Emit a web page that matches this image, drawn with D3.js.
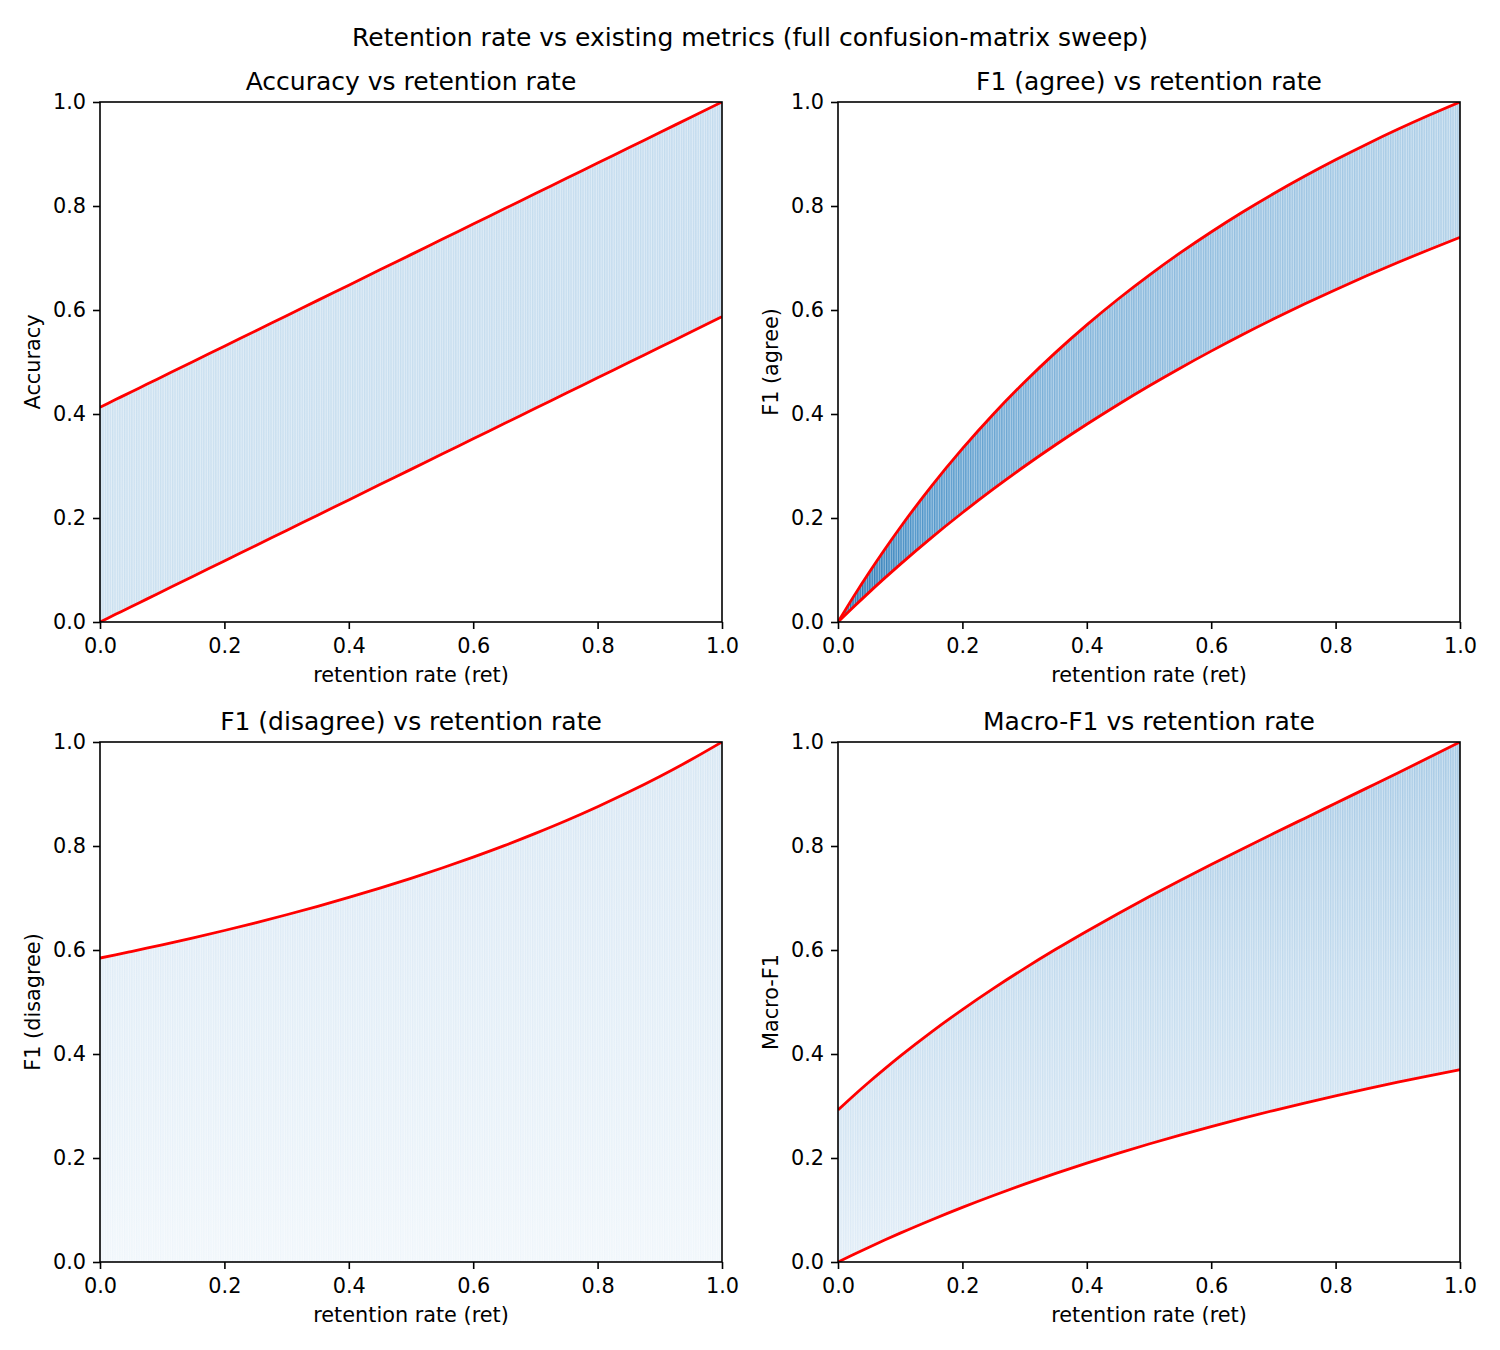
<!DOCTYPE html>
<html>
<head>
<meta charset="utf-8">
<script src="https://cdn.jsdelivr.net/npm/d3@7"></script>
<style>
  body { margin: 0; background: #fff; }
  svg { display: block; font-family: "DejaVu Sans", sans-serif; }
</style>
</head>
<body>
<div id="chart"></div>
<script>
// retention-rate samples along x (shared by all panels)
const RET = [0, 0.025, 0.05, 0.075, 0.1, 0.15, 0.2, 0.25, 0.3, 0.35, 0.4, 0.45, 0.5,
             0.55, 0.6, 0.65, 0.7, 0.75, 0.8, 0.85, 0.9, 0.95, 1.0];

// bounds (red curves)
const ACC_UPPER = [0.413, 0.4277, 0.4424, 0.4570, 0.4717, 0.5011, 0.5304, 0.5598, 0.5891, 0.6185, 0.6478, 0.6772,
                   0.7065, 0.7359, 0.7652, 0.7946, 0.8239, 0.8533, 0.8826, 0.9120, 0.9413, 0.9707, 1.0];
const ACC_LOWER = [0, 0.0147, 0.0294, 0.0440, 0.0587, 0.0881, 0.1174, 0.1468, 0.1761, 0.2055, 0.2348, 0.2642,
                   0.2935, 0.3229, 0.3522, 0.3816, 0.4109, 0.4403, 0.4696, 0.4990, 0.5283, 0.5577, 0.587];

const F1A_UPPER = [0, 0.0488, 0.0952, 0.1395, 0.1818, 0.2609, 0.3333, 0.4, 0.4615, 0.5185, 0.5714, 0.6207,
                   0.6667, 0.7097, 0.75, 0.7879, 0.8235, 0.8571, 0.8889, 0.9189, 0.9474, 0.9744, 1.0];
const F1A_LOWER = [0, 0.0289, 0.0570, 0.0843, 0.1109, 0.1619, 0.2101, 0.2559, 0.2995, 0.3409, 0.3803, 0.4179,
                   0.4538, 0.4881, 0.5209, 0.5524, 0.5825, 0.6114, 0.6391, 0.6657, 0.6914, 0.7160, 0.7398];

const F1D_UPPER = [0.5846, 0.5907, 0.5970, 0.6034, 0.6099, 0.6234, 0.6375, 0.6523, 0.6678, 0.6840, 0.7011, 0.7190,
                   0.7378, 0.7577, 0.7787, 0.8008, 0.8243, 0.8491, 0.8756, 0.9037, 0.9337, 0.9657, 1.0];
const F1D_LOWER = [0, 0, 0, 0, 0, 0, 0, 0, 0, 0, 0, 0, 0, 0, 0, 0, 0, 0, 0, 0, 0, 0, 0];

const MACRO_UPPER = [0.2923, 0.3198, 0.3461, 0.3714, 0.3959, 0.4422, 0.4854, 0.5262, 0.5647, 0.6013, 0.6362, 0.6698,
                     0.7023, 0.7337, 0.7643, 0.7944, 0.8239, 0.8531, 0.8822, 0.9113, 0.9405, 0.9701, 1.0];
const MACRO_LOWER = [0, 0.0145, 0.0285, 0.0422, 0.0555, 0.0809, 0.1051, 0.1280, 0.1497, 0.1704, 0.1902, 0.2090,
                     0.2269, 0.2441, 0.2605, 0.2762, 0.2912, 0.3057, 0.3195, 0.3329, 0.3457, 0.3580, 0.3699];

const TICKS = [0, 0.2, 0.4, 0.6, 0.8, 1.0];

const PANELS = [
  { title: "Accuracy vs retention rate", ylabel: "Accuracy", upper: ACC_UPPER, lower: ACC_LOWER,
    col: 0, row: 0, grad: { dir: "h", stops: [["0%", "#cbe0f0"], ["100%", "#c3dbee"]] } },
  { title: "F1 (agree) vs retention rate", ylabel: "F1 (agree)", upper: F1A_UPPER, lower: F1A_LOWER,
    col: 1, row: 0, grad: { dir: "h", stops: [["0%", "#1f6eab"], ["12%", "#4c93c8"], ["35%", "#7fb2d9"], ["100%", "#b0d0e8"]] } },
  { title: "F1 (disagree) vs retention rate", ylabel: "F1 (disagree)", upper: F1D_UPPER, lower: F1D_LOWER,
    col: 0, row: 1, grad: { dir: "v", stops: [["0%", "#d6e6f3"], ["60%", "#e4eff8"], ["100%", "#f0f6fb"]] } },
  { title: "Macro-F1 vs retention rate", ylabel: "Macro-F1", upper: MACRO_UPPER, lower: MACRO_LOWER,
    col: 1, row: 1, grad: { dir: "v", stops: [["0%", "#a4c8e4"], ["45%", "#c3dbee"], ["100%", "#e1edf7"]] } }
];

const W = 1500, H = 1350;
const axW = 622, axH = 520;
const axX = [100, 838], axY = [102, 742];

const svg = d3.select("#chart").append("svg").attr("width", W).attr("height", H);
const defs = svg.append("defs");

// vertical stripe texture of the dense point columns
const pat = defs.append("pattern")
  .attr("id", "stripes").attr("patternUnits", "userSpaceOnUse")
  .attr("width", 2.4).attr("height", 10);
pat.append("rect").attr("x", 1.3).attr("y", 0).attr("width", 1.1).attr("height", 10)
  .attr("fill", "#fff").attr("fill-opacity", 0.45);

svg.append("text")
  .attr("x", W / 2).attr("y", 46)
  .attr("text-anchor", "middle")
  .style("font-size", "25px")
  .text("Retention rate vs existing metrics (full confusion-matrix sweep)");

PANELS.forEach((p, i) => {
  const x0 = axX[p.col], y0 = axY[p.row];
  const g = svg.append("g").attr("transform", `translate(${x0},${y0})`);

  const x = d3.scaleLinear().domain([0, 1]).range([0, axW]);
  const y = d3.scaleLinear().domain([0, 1]).range([axH, 0]);

  const rows = RET.map((r, k) => ({ r, lo: p.lower[k], hi: p.upper[k] }));

  // gradient for band tone
  const gr = defs.append("linearGradient").attr("id", "grad" + i)
    .attr("x1", "0").attr("y1", "0")
    .attr("x2", p.grad.dir === "h" ? "1" : "0")
    .attr("y2", p.grad.dir === "h" ? "0" : "1");
  p.grad.stops.forEach(s => gr.append("stop").attr("offset", s[0]).attr("stop-color", s[1]));

  defs.append("clipPath").attr("id", "clip" + i)
    .append("rect").attr("width", axW).attr("height", axH);

  const area = d3.area()
    .x(d => x(d.r)).y0(d => y(d.lo)).y1(d => y(d.hi))
    .curve(d3.curveMonotoneX);

  const plot = g.append("g").attr("clip-path", `url(#clip${i})`);
  plot.append("path").datum(rows).attr("d", area).attr("fill", `url(#grad${i})`);
  plot.append("path").datum(rows).attr("d", area).attr("fill", "url(#stripes)");

  const line = d3.line().x(d => x(d[0])).y(d => y(d[1])).curve(d3.curveMonotoneX);
  [p.upper, p.lower].forEach(arr => {
    if (arr.every(v => v === 0)) return;
    plot.append("path")
      .datum(RET.map((r, k) => [r, arr[k]]))
      .attr("d", line)
      .attr("fill", "none")
      .attr("stroke", "#ff0000")
      .attr("stroke-width", 2.8);
  });

  // axes
  const xAxis = g.append("g").attr("transform", `translate(0,${axH})`)
    .call(d3.axisBottom(x).tickValues(TICKS).tickFormat(d3.format(".1f")).tickSizeOuter(0).tickSize(7).tickPadding(9));
  const yAxis = g.append("g")
    .call(d3.axisLeft(y).tickValues(TICKS).tickFormat(d3.format(".1f")).tickSizeOuter(0).tickSize(7).tickPadding(7));
  [xAxis, yAxis].forEach(a => {
    a.select(".domain").remove();
    a.selectAll(".tick line").attr("stroke", "#000").attr("stroke-width", 1.6);
    a.selectAll(".tick text").style("font-size", "20.8px").attr("fill", "#000")
      .style("font-family", "DejaVu Sans, sans-serif");
  });

  // spines
  g.append("rect").attr("width", axW).attr("height", axH)
    .attr("fill", "none").attr("stroke", "#000").attr("stroke-width", 1.6);

  g.append("text")
    .attr("x", axW / 2).attr("y", -12)
    .attr("text-anchor", "middle")
    .style("font-size", "25px")
    .text(p.title);

  g.append("text")
    .attr("x", axW / 2).attr("y", axH + 60)
    .attr("text-anchor", "middle")
    .style("font-size", "20.8px")
    .text("retention rate (ret)");

  g.append("text")
    .attr("transform", `translate(${-60},${axH / 2}) rotate(-90)`)
    .attr("text-anchor", "middle")
    .style("font-size", "20.8px")
    .text(p.ylabel);
});
</script>
</body>
</html>
